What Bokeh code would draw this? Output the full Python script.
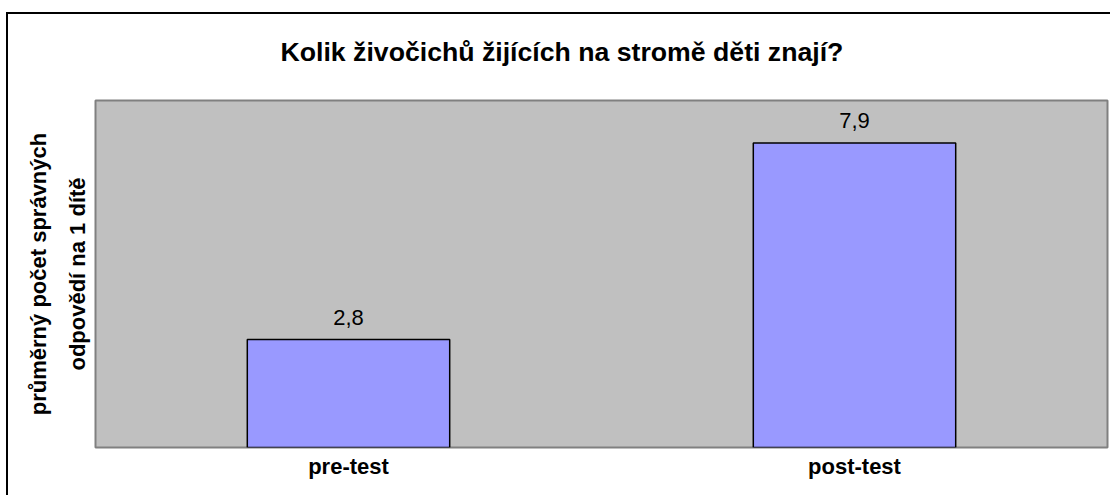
from bokeh.plotting import figure
from bokeh.models import (ColumnDataSource, LabelSet, Title, FixedTicker,
                          Range1d, FactorRange, InlineStyleSheet)
from bokeh.core.properties import value
from bokeh.embed import file_html
from bokeh.resources import INLINE

# ---- data ----
categories = ["pre-test", "post-test"]
values = [2.8, 7.9]
value_labels = [f"{v:.1f}".replace(".", ",") for v in values]
title_text = "Kolik živočichů žijících na stromě děti znají?"
y_label = "průměrný počet správných\nodpovědí na 1 dítě"

FONT = "Liberation Sans"

src = ColumnDataSource(dict(cat=categories, val=values, lab=value_labels))

p = figure(width=1110, height=495, output_backend="svg", toolbar_location=None,
           x_range=FactorRange(*categories, range_padding=0),
           y_range=Range1d(0, 9),
           min_border_left=95, min_border_right=3, min_border_top=99,
           min_border_bottom=48)

p.background_fill_color = "#C0C0C0"
p.border_fill_color = "white"
p.outline_line_color = "#808080"
p.outline_line_width = 2
p.grid.visible = False

p.vbar(x="cat", top="val", width=0.4, source=src,
       fill_color="#9999FF", line_color="black", line_width=1.5)

p.add_layout(LabelSet(x="cat", y="val", text="lab", source=src,
                      y_offset=15, text_align="center",
                      text_baseline="alphabetic",
                      text_font=value(FONT), text_font_size=value("22px"),
                      text_color="black"))

# x axis
xa = p.xaxis[0]
xa.axis_line_color = None
xa.major_tick_line_color = None
xa.minor_tick_line_color = None
xa.major_label_text_font = FONT
xa.major_label_text_font_size = "22px"
xa.major_label_text_font_style = "bold"
xa.major_label_text_color = "black"
xa.major_label_standoff = 0

# y axis
ya = p.yaxis[0]
ya.ticker = FixedTicker(ticks=[])
ya.axis_line_color = None
ya.major_tick_line_color = None
ya.minor_tick_line_color = None
ya.major_label_standoff = 0
ya.axis_label = y_label
ya.axis_label_text_font = FONT
ya.axis_label_text_font_size = "22px"
ya.axis_label_text_font_style = "bold"
ya.axis_label_text_color = "black"
ya.axis_label_text_line_height = 1.55
ya.axis_label_standoff = 6

# title
t = Title(text=title_text, align="left", offset=185, standoff=68,
          text_font=FONT, text_font_size="26.67px", text_font_style="bold",
          text_color="black")
p.add_layout(t, "above")

# outer chart border (cropped at right/bottom by the window)
p.stylesheets = [InlineStyleSheet(css="""
:host { position: relative; }
:host::after {
  content: "";
  position: absolute;
  left: 6px; top: 12px; right: 0px; bottom: 0px;
  border-left: 2px solid black;
  border-top: 2px solid black;
  pointer-events: none;
  z-index: 10;
}
""")]

open("out.html", "w").write(file_html(p, INLINE))
